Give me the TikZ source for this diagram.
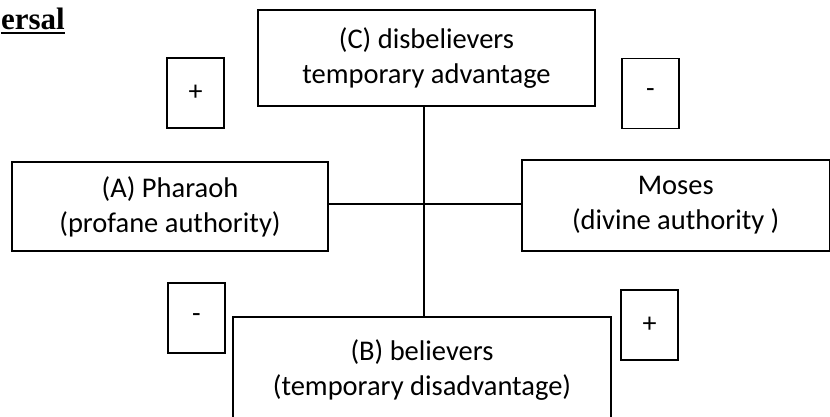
\documentclass[tikz,border=0pt]{standalone}
\usepackage{fontspec}
\setmainfont{Carlito}
\newfontfamily\hdrfont{Liberation Serif}
\tikzset{bx/.append style={draw, line width=1.8pt, align=center, inner sep=0pt, font=\fontsize{28.5}{35}\selectfont}}
\tikzset{sg/.append style={draw, line width=1.8pt, minimum width=57pt, minimum height=70pt, inner sep=0pt, font=\fontsize{28}{30}\selectfont}}

\begin{document}
\begin{tikzpicture}[x=1pt,y=-1pt]
                \useasboundingbox (0,0) rectangle (830,416);
                \clip (0,0) rectangle (830,416);
                % heading (cut off at the left)
                \node[anchor=base east, inner sep=0pt, font=\hdrfont\bfseries\fontsize{31}{33}\selectfont] (hdr) at (65,29) {ersal};
                \draw[line width=2.6pt] ([yshift=-4pt]hdr.base west) -- ([yshift=-4pt]hdr.base east);
                % main boxes
                \node[bx, minimum width=337pt, minimum height=96pt] (C) at (426.5,58) {(C) disbelievers\\temporary advantage};
                \node[bx, minimum width=316pt, minimum height=89pt] (A) at (170,206.5) {(A) Pharaoh\\(profane authority)};
                \node[bx, minimum width=307.5pt, minimum height=91pt] (M) at (675.75,205.5) {Moses\\(divine authority )};
                \node[bx, minimum width=378pt, minimum height=106pt] (B) at (422,370) {(B) believers\\(temporary disadvantage)};
                % signs
                \node[sg] (p1) at (195.5,93) {+};
                \node[sg] (m1) at (650.5,93.5) {-};
                \node[sg] (m2) at (196.5,318) {-};
                \node[sg] (p2) at (649.5,325) {+};
                % cross
                \coordinate (hub) at (424,204);
                \draw[line width=1.8pt] (C.south -| hub) -- (B.north -| hub);
                \draw[line width=1.8pt] (A.east |- hub) -- (M.west |- hub);
            \end{tikzpicture}
\end{document}
